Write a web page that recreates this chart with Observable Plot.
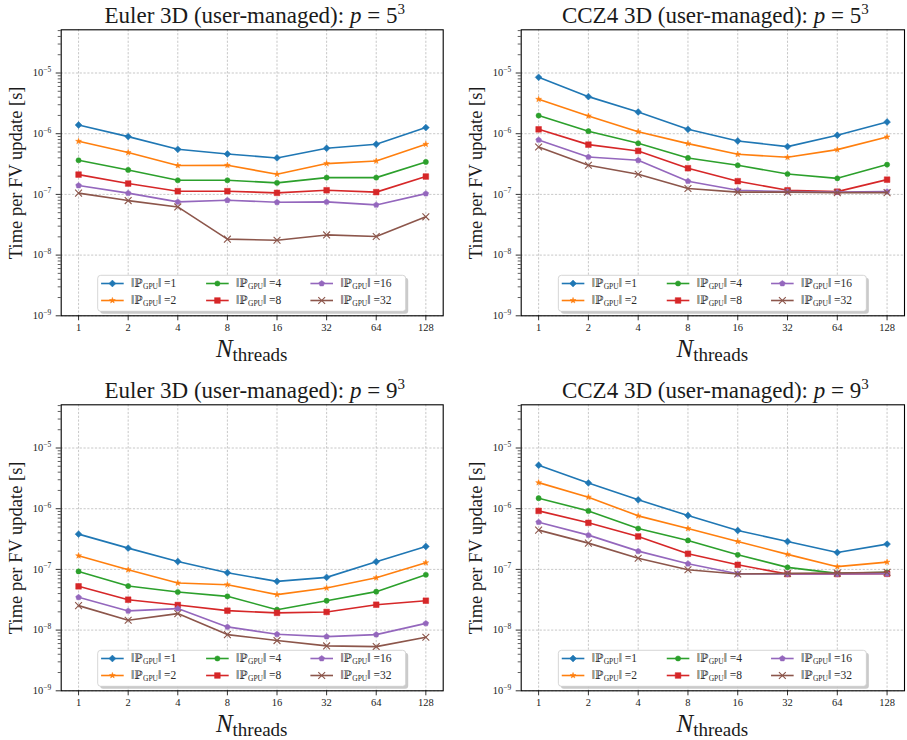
<!DOCTYPE html>
<html>
<head>
<meta charset="utf-8">
<script src="https://cdn.jsdelivr.net/npm/d3@7"></script>
<script src="https://cdn.jsdelivr.net/npm/@observablehq/plot@0.6"></script>
<style>
  html, body { margin: 0; padding: 0; background: #fff; overflow: hidden; }
  #root { position: relative; width: 907px; height: 740px; }
  #root svg { position: absolute; overflow: visible; }
</style>
</head>
<body>
<div id="root"></div>
<script>
// ---------------- data ----------------
const threads = [1, 2, 4, 8, 16, 32, 64, 128];
const gpuCounts = [1, 2, 4, 8, 16, 32];
const seriesColors = ["#1f77b4", "#ff7f0e", "#2ca02c", "#d62728", "#9467bd", "#8c564b"];
const yDecades = [1e-9, 1e-8, 1e-7, 1e-6, 1e-5];
const panelModels = ["Euler 3D", "CCZ4 3D", "Euler 3D", "CCZ4 3D"];
const panelOrders = ["5", "5", "9", "9"];

// rows: ||P_GPU|| = 1, 2, 4, 8, 16, 32 ; columns: threads 1..128
const euler5 = [
  [1.39e-6, 8.96e-7, 5.53e-7, 4.64e-7, 3.99e-7, 5.75e-7, 6.70e-7, 1.26e-6],
  [7.50e-7, 4.89e-7, 2.99e-7, 3.02e-7, 2.15e-7, 3.22e-7, 3.56e-7, 6.70e-7],
  [3.65e-7, 2.53e-7, 1.71e-7, 1.71e-7, 1.55e-7, 1.89e-7, 1.89e-7, 3.43e-7],
  [2.12e-7, 1.51e-7, 1.13e-7, 1.13e-7, 1.06e-7, 1.17e-7, 1.09e-7, 1.97e-7],
  [1.40e-7, 1.05e-7, 7.53e-8, 8.02e-8, 7.43e-8, 7.53e-8, 6.71e-8, 1.03e-7],
  [1.05e-7, 7.91e-8, 6.22e-8, 1.83e-8, 1.76e-8, 2.15e-8, 2.02e-8, 4.27e-8]
];
const ccz45 = [
  [8.49e-6, 4.08e-6, 2.28e-6, 1.18e-6, 7.60e-7, 6.13e-7, 9.42e-7, 1.56e-6],
  [3.69e-6, 1.96e-6, 1.08e-6, 6.87e-7, 4.58e-7, 4.09e-7, 5.47e-7, 8.83e-7],
  [1.99e-6, 1.10e-6, 6.95e-7, 3.99e-7, 3.02e-7, 2.17e-7, 1.84e-7, 3.10e-7],
  [1.18e-6, 6.61e-7, 5.20e-7, 2.70e-7, 1.65e-7, 1.17e-7, 1.11e-7, 1.75e-7],
  [7.89e-7, 4.14e-7, 3.65e-7, 1.65e-7, 1.17e-7, 1.11e-7, 1.09e-7, 1.11e-7],
  [6.05e-7, 3.02e-7, 2.15e-7, 1.25e-7, 1.09e-7, 1.09e-7, 1.07e-7, 1.07e-7]
];
const euler9 = [
  [3.81e-7, 2.24e-7, 1.35e-7, 8.82e-8, 6.35e-8, 7.39e-8, 1.34e-7, 2.39e-7],
  [1.68e-7, 9.88e-8, 5.96e-8, 5.60e-8, 3.84e-8, 4.94e-8, 7.29e-8, 1.29e-7],
  [9.27e-8, 5.32e-8, 4.24e-8, 3.60e-8, 2.17e-8, 3.05e-8, 4.30e-8, 8.16e-8],
  [5.26e-8, 3.17e-8, 2.59e-8, 2.09e-8, 1.92e-8, 1.99e-8, 2.62e-8, 3.05e-8],
  [3.47e-8, 2.07e-8, 2.26e-8, 1.13e-8, 8.55e-9, 7.82e-9, 8.43e-9, 1.29e-8],
  [2.53e-8, 1.45e-8, 1.87e-8, 8.43e-9, 6.72e-9, 5.49e-9, 5.35e-9, 7.62e-9]
];
const ccz49 = [
  [5.19e-6, 2.66e-6, 1.40e-6, 7.73e-7, 4.38e-7, 2.88e-7, 1.90e-7, 2.61e-7],
  [2.69e-6, 1.55e-6, 7.62e-7, 4.72e-7, 2.88e-7, 1.77e-7, 1.11e-7, 1.32e-7],
  [1.49e-6, 9.20e-7, 4.72e-7, 3.00e-7, 1.74e-7, 1.08e-7, 8.60e-8, 8.93e-8],
  [9.20e-7, 5.85e-7, 3.49e-7, 1.81e-7, 1.19e-7, 8.38e-8, 8.38e-8, 8.47e-8],
  [6.00e-7, 3.67e-7, 2.00e-7, 1.24e-7, 8.48e-8, 8.38e-8, 8.38e-8, 8.47e-8],
  [4.44e-7, 2.71e-7, 1.53e-7, 9.88e-8, 8.38e-8, 8.60e-8, 8.70e-8, 9.00e-8]
];
const panelData = [euler5, ccz45, euler9, ccz49];

// ---------------- helpers ----------------
const FONT = "'Liberation Serif', 'DejaVu Serif', serif";
const expOf = d => Math.round(Math.log10(d));

const pentagon = {
  draw(ctx, size) {
    const r = Math.sqrt(size / Math.PI) * 1.15;
    for (let i = 0; i < 5; i++) {
      const a = -Math.PI / 2 + i * 2 * Math.PI / 5;
      const x = r * Math.cos(a), y = r * Math.sin(a);
      if (i === 0) ctx.moveTo(x, y); else ctx.lineTo(x, y);
    }
    ctx.closePath();
  }
};
const seriesSymbols = [d3.symbolDiamond2, d3.symbolStar, d3.symbolCircle, d3.symbolSquare, pentagon, d3.symbolTimes];
const seriesR = [3.1, 1.85, 2.6, 3.2, 2.6, 3.2];

const minorTicks = [];
for (let k = -9; k <= -5; k++) for (let m = 2; m <= 9; m++) {
  const v = m * Math.pow(10, k);
  if (v <= 5.15e-5) minorTicks.push(v);
}

const layout = [
  {left: 0, top: 0, width: 454, mr: 11.3},
  {left: 460, top: 0, width: 447, mr: 3},
  {left: 0, top: 375, width: 454, mr: 11.3},
  {left: 460, top: 375, width: 447, mr: 3}
];
const H = 365, ML = 60.7, MT = 29.3, MB = 49.7;

const root = document.getElementById("root");

panelData.forEach((matrix, pi) => {
  const L = layout[pi];
  const rows = [];
  gpuCounts.forEach((g, gi) => threads.forEach((t, ti) => rows.push({threads: t, gpu: g, time: matrix[gi][ti]})));

  const seriesMarks = [];
  gpuCounts.forEach((g, gi) => {
    const sub = rows.filter(r => r.gpu === g);
    seriesMarks.push(Plot.line(sub, {x: "threads", y: "time", stroke: "gpu", strokeWidth: 1.6}));
    if (gi === 5) {
      seriesMarks.push(Plot.dot(sub, {x: "threads", y: "time", stroke: "gpu", fill: "none", strokeWidth: 1.1, r: seriesR[gi], symbol: seriesSymbols[gi]}));
    } else {
      seriesMarks.push(Plot.dot(sub, {x: "threads", y: "time", fill: "gpu", stroke: "gpu", strokeWidth: 0.5, r: seriesR[gi], symbol: seriesSymbols[gi]}));
    }
  });

  const svg = Plot.plot({
    width: L.width, height: H,
    marginLeft: ML, marginRight: L.mr, marginTop: MT, marginBottom: MB,
    style: {fontFamily: FONT, fontSize: "11px", color: "#1a1a1a", background: "white"},
    x: {type: "log", base: 2, domain: [Math.pow(2, -0.35), Math.pow(2, 7.35)]},
    y: {type: "log", domain: [1e-9, 5.15e-5]},
    color: {type: "ordinal", domain: gpuCounts, range: seriesColors},
    marks: [
      Plot.gridX(threads, {stroke: "#b0b0b0", strokeOpacity: 1, strokeWidth: 0.7, strokeDasharray: "2.2,1.6"}),
      Plot.gridY(yDecades, {stroke: "#b0b0b0", strokeOpacity: 1, strokeWidth: 0.7, strokeDasharray: "2.2,1.6"}),
      ...seriesMarks,
      Plot.axisX(threads, {tickSize: 5, tickPadding: 2.5, tickFormat: d => String(d), fontSize: 10.5, label: null, strokeWidth: 0.9}),
      Plot.axisY(yDecades, {tickSize: 5, tickPadding: 5, tickFormat: d => "10^" + expOf(d), fontSize: 10.5, label: null, strokeWidth: 0.9}),
      Plot.axisY(minorTicks, {tickSize: 3, tickFormat: () => "", label: null, strokeWidth: 0.7}),
      Plot.frame({stroke: "black", strokeWidth: 1.1}),
      Plot.text(["Time per FV update [s]"], {text: d => d, frameAnchor: "left", textAnchor: "middle", rotate: -90, dx: -45.5, fontSize: 18.5, fill: "#1a1a1a"})
    ]
  });
  svg.style.left = L.left + "px";
  svg.style.top = L.top + "px";
  root.appendChild(svg);

  const s = d3.select(svg);

  // render y tick labels "10^k" as 10 with a raised exponent
  s.selectAll("text").each(function () {
    const el = d3.select(this);
    const m = /^10\^(-?\d+)$/.exec(this.textContent);
    if (!m) return;
    el.text(null);
    el.append("tspan").text("10");
    el.append("tspan").attr("font-size", 7.5).attr("dy", "-0.6em").text(m[1].replace("-", "\u2212"));
  });

  const frameL = ML, frameR = L.width - L.mr, frameB = H - MB;
  const cx = (frameL + frameR) / 2;

  // title
  const title = s.append("text").attr("x", cx + 3).attr("y", 22.5).attr("text-anchor", "middle")
    .attr("font-family", FONT).attr("font-size", 23).attr("fill", "#1a1a1a");
  title.append("tspan").text(panelModels[pi] + " (user-managed): ");
  title.append("tspan").attr("font-style", "italic").text("p");
  title.append("tspan").text(" = " + panelOrders[pi]);
  title.append("tspan").attr("font-size", 15).attr("dy", -9).text("3");

  // x label
  const xl = s.append("text").attr("x", cx).attr("y", 357).attr("text-anchor", "middle")
    .attr("font-family", FONT).attr("fill", "#1a1a1a");
  xl.append("tspan").attr("font-size", 25).attr("font-style", "italic").text("N");
  xl.append("tspan").attr("font-size", 19).attr("dy", 3.5).text("threads");

  // legend
  const bw = 308, bh = 36;
  const bx = cx - bw / 2, by = frameB - 4 - bh;
  const lg = s.append("g").attr("transform", `translate(${bx},${by})`);
  lg.append("rect").attr("x", 2.5).attr("y", 2.5).attr("width", bw).attr("height", bh).attr("rx", 3)
    .attr("fill", "#bdbdbd").attr("fill-opacity", 0.8);
  lg.append("rect").attr("width", bw).attr("height", bh).attr("rx", 3)
    .attr("fill", "white").attr("stroke", "#cccccc").attr("stroke-width", 0.8);
  const colX = [3.4, 108.4, 212.7];
  const rowY = [8.2, 25.2];
  gpuCounts.forEach((g, gi) => {
    const col = Math.floor(gi / 2), row = gi % 2;
    const x0 = colX[col], y0 = rowY[row];
    lg.append("line").attr("x1", x0).attr("x2", x0 + 22.6).attr("y1", y0).attr("y2", y0)
      .attr("stroke", seriesColors[gi]).attr("stroke-width", 1.6);
    const p = d3.symbol(seriesSymbols[gi], Math.PI * seriesR[gi] * seriesR[gi])();
    const m = lg.append("path").attr("d", p).attr("transform", `translate(${x0 + 11.3},${y0})`);
    if (gi === 5) m.attr("fill", "none").attr("stroke", seriesColors[gi]).attr("stroke-width", 1.1);
    else m.attr("fill", seriesColors[gi]).attr("stroke", seriesColors[gi]).attr("stroke-width", 0.5);
    const t = lg.append("text").attr("x", x0 + 30).attr("y", y0 + 4).attr("text-anchor", "start")
      .attr("font-family", FONT).attr("font-size", 11.5).attr("fill", "#2a2a2a");
    t.append("tspan").text("\u2016\u2119");
    t.append("tspan").attr("font-size", 7.5).attr("dy", 2).text("GPU");
    t.append("tspan").attr("dy", -2).text("\u2016 =" + g);
  });
});
</script>
</body>
</html>
